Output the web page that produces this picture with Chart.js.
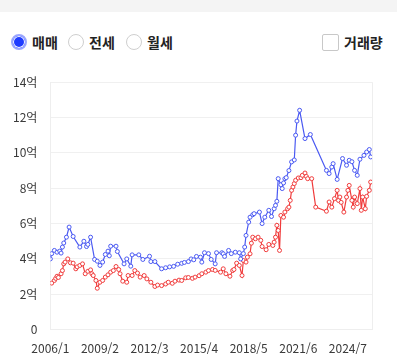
<!DOCTYPE html>
<html lang="ko">
<head>
<meta charset="utf-8">
<script src="https://cdn.jsdelivr.net/npm/chart.js@4/dist/chart.umd.min.js"></script>
<style>
  html, body { margin:0; padding:0; background:#fff; }
  body { width:397px; height:361px; position:relative; overflow:hidden; font-family:"Noto Sans CJK KR","Noto Sans",sans-serif; }
  #topband { position:absolute; left:0; top:0; width:397px; height:12px; background:#f4f4f4; }
  .radio { position:absolute; top:34px; width:16px; height:16px; border-radius:50%; box-sizing:border-box; border:1px solid #cfcfcf; background:#fff; }
  .radio.on { border:2px solid #9aa6ff; background:#1f3cff; box-shadow: inset 0 0 0 1px #fff; }
  .lbl { position:absolute; top:32px; font-size:14px; font-weight:700; color:#222; line-height:20px; }
  .chk { position:absolute; top:34px; left:322px; width:17px; height:17px; box-sizing:border-box; border:1px solid #c8c8c8; border-radius:2px; background:#fff; }
  #c { position:absolute; left:0; top:62px; }
</style>
</head>
<body>
<div id="topband"></div>
<div class="radio on" style="left:11px"></div><div class="lbl" style="left:32px">매매</div>
<div class="radio" style="left:68px"></div><div class="lbl" style="left:89px">전세</div>
<div class="radio" style="left:126px"></div><div class="lbl" style="left:147px">월세</div>
<div class="chk"></div><div class="lbl" style="left:344px">거래량</div>
<canvas id="c" width="397" height="310"></canvas>
<script>
// 매매 (sale) — month, value in 억
const saleDates = ["2006/1","2006/2","2006/4","2006/6","2006/8","2006/9","2006/10","2006/11","2007/1","2007/3","2007/6","2007/11","2008/2","2008/4","2008/5","2008/7","2008/10","2008/12","2009/2","2009/4","2009/6","2009/8","2009/9","2009/10","2010/2","2010/3","2010/8","2010/10","2011/1","2011/2","2011/7","2011/10","2012/3","2012/4","2012/7","2012/12","2013/3","2013/6","2013/9","2013/12","2014/3","2014/5","2014/8","2014/10","2014/12","2015/2","2015/5","2015/6","2015/8","2015/11","2016/1","2016/4","2016/5","2016/9","2016/10","2016/11","2017/2","2017/4","2017/7","2017/10","2017/11","2018/1","2018/2","2018/3","2018/5","2018/6","2018/8","2018/9","2019/1","2019/3","2019/5","2019/8","2019/10","2019/12","2020/1","2020/2","2020/3","2020/5","2020/6","2020/7","2020/8","2020/9","2020/11","2021/1","2021/3","2021/4","2021/5","2021/7","2021/11","2022/3","2023/3","2023/5","2023/7","2023/8","2023/11","2024/3","2024/6","2024/8","2024/10","2024/12","2025/2","2025/4","2025/7","2025/9","2025/11","2025/12"];
const saleValues = [4.0,4.3,4.48,4.38,4.44,4.33,4.67,4.9,5.23,5.8,5.27,4.67,5.0,4.7,4.82,5.23,3.97,3.87,3.63,3.82,4.25,4.44,4.18,4.72,4.72,4.42,3.72,4.0,3.59,4.23,4.23,3.97,4.15,3.85,3.85,3.44,3.5,3.55,3.58,3.7,3.75,3.8,3.85,4.0,3.95,4.14,4.1,3.82,4.35,4.3,3.97,3.72,4.35,4.35,4.29,4.14,4.48,4.3,4.38,4.35,4.0,4.3,4.67,5.33,6.08,6.36,6.5,6.56,6.65,6.0,6.36,6.75,6.4,6.84,7.03,7.26,8.54,8.2,7.98,8.3,8.54,8.6,9.0,9.49,9.6,11.0,11.8,12.41,10.81,11.04,9.01,8.83,9.2,9.39,8.5,9.68,9.3,9.58,9.5,9.01,8.73,9.64,9.86,10.05,10.19,9.77];

// 전세 (jeonse)
const jeonseDates = ["2006/2","2006/4","2006/5","2006/6","2006/7","2006/9","2006/10","2006/11","2006/12","2007/2","2007/4","2007/6","2007/8","2007/9","2007/11","2008/1","2008/3","2008/5","2008/7","2008/8","2008/9","2008/11","2008/12","2009/2","2009/4","2009/6","2009/8","2009/10","2009/12","2010/2","2010/4","2010/5","2010/7","2010/10","2010/11","2011/2","2011/4","2011/6","2011/8","2011/11","2012/1","2012/4","2012/7","2012/9","2012/12","2013/3","2013/5","2013/8","2013/10","2014/1","2014/3","2014/6","2014/8","2014/11","2015/1","2015/4","2015/6","2015/9","2015/11","2016/2","2016/4","2016/8","2016/10","2016/12","2017/3","2017/5","2017/6","2017/8","2017/10","2017/12","2018/1","2018/3","2018/4","2018/6","2018/7","2018/8","2018/10","2018/12","2019/2","2019/3","2019/6","2019/8","2019/11","2019/12","2020/1","2020/2","2020/3","2020/4","2020/5","2020/7","2020/8","2020/10","2020/11","2020/12","2021/1","2021/2","2021/3","2021/4","2021/6","2021/8","2021/9","2021/11","2021/12","2022/1","2022/4","2022/7","2023/3","2023/5","2023/7","2023/9","2023/11","2023/12","2024/1","2024/2","2024/4","2024/6","2024/7","2024/8","2024/10","2024/11","2024/12","2025/2","2025/4","2025/5","2025/6","2025/8","2025/9","2025/11","2025/12"];
const jeonseValues = [2.63,2.78,2.9,3.02,2.95,3.16,3.34,3.72,3.82,4.0,3.78,3.76,3.44,3.55,3.63,3.72,3.16,3.3,3.38,3.16,3.06,2.78,2.34,2.68,2.78,2.97,3.1,3.25,3.34,3.57,3.4,3.16,2.74,2.68,3.06,3.06,3.34,3.2,2.97,3.06,2.87,2.68,2.44,2.52,2.49,2.58,2.68,2.62,2.74,2.8,2.78,2.93,2.95,2.9,2.97,3.05,3.16,3.25,3.34,3.4,3.35,3.25,3.44,3.16,3.02,3.34,3.4,3.76,3.63,3.06,3.91,3.82,4.1,4.29,4.89,5.23,5.14,5.23,5.05,4.7,4.52,4.82,4.76,4.95,5.23,5.9,5.61,4.48,6.46,6.36,6.65,6.84,6.93,7.31,7.88,8.07,8.26,8.45,8.58,8.6,8.73,8.86,8.67,8.54,8.54,6.93,6.7,7.22,6.93,7.41,7.88,7.31,7.5,7.2,6.65,7.5,7.88,8.16,7.31,6.93,7.5,7.13,7.98,6.75,7.5,6.84,7.54,7.88,8.35];

// axis
const xStartLabel = "2006/1";
const xEndLabel = "2026/1";
const xTickStep = 37;          // months between tick labels
const yTicks = [0, 2, 4, 6, 8, 10, 12, 14];

function toIdx(s) { const [y, m] = s.split('/').map(Number); return (y - 2006) * 12 + (m - 1); }
function toLabel(i) { const y = 2006 + Math.floor(i / 12); const m = (i % 12) + 1; return y + '/' + m; }

const salePts = saleDates.map((d, i) => ({ x: toIdx(d), y: saleValues[i] }));
const jeonsePts = jeonseDates.map((d, i) => ({ x: toIdx(d), y: jeonseValues[i] }));

const borderPlugin = {
  id: 'rightBorder',
  beforeDatasetsDraw(chart) {
    const { ctx, chartArea: a } = chart;
    ctx.save();
    ctx.strokeStyle = '#eeeeee';
    ctx.lineWidth = 1;
    ctx.beginPath();
    ctx.moveTo(Math.round(a.right) + 0.5, a.top);
    ctx.lineTo(Math.round(a.right) + 0.5, a.bottom);
    ctx.stroke();
    ctx.restore();
  }
};

const font = { family: '"Noto Sans CJK KR","Noto Sans",sans-serif', size: 12 };

new Chart(document.getElementById('c'), {
  type: 'line',
  data: {
    datasets: [
      { label: '매매', data: salePts, borderColor: '#4b5af2', backgroundColor: '#ffffff',
        pointBackgroundColor: '#ffffff', pointBorderColor: '#4b5af2', pointRadius: 2, pointBorderWidth: 1,
        borderWidth: 1.2, tension: 0 },
      { label: '전세', data: jeonsePts, borderColor: '#f03c3c', backgroundColor: '#ffffff',
        pointBackgroundColor: '#ffffff', pointBorderColor: '#f03c3c', pointRadius: 2, pointBorderWidth: 1,
        borderWidth: 1.2, tension: 0 }
    ]
  },
  options: {
    responsive: false,
    animation: false,
    layout: { padding: { top: 20, bottom: 4, left: 0, right: 25 } },
    plugins: { legend: { display: false }, tooltip: { enabled: false } },
    scales: {
      x: {
        type: 'linear',
        min: toIdx(xStartLabel), max: toIdx(xEndLabel),
        grid: { display: false, drawTicks: false },
        border: { display: true, color: '#eeeeee' },
        ticks: { stepSize: xTickStep, includeBounds: false, autoSkip: false, maxRotation: 0,
          padding: 12, color: '#3a3a3a', font, callback: v => toLabel(v) }
      },
      y: {
        min: 0, max: 14,
        grid: { color: '#f0f0f0', drawTicks: false },
        border: { display: true, color: '#eeeeee' },
        afterBuildTicks: s => { s.ticks = yTicks.map(v => ({ value: v })); },
        ticks: { padding: 13, color: '#3a3a3a', font, callback: v => v === 0 ? '0' : v + '억' }
      }
    }
  },
  plugins: [borderPlugin]
});
</script>
</body>
</html>
